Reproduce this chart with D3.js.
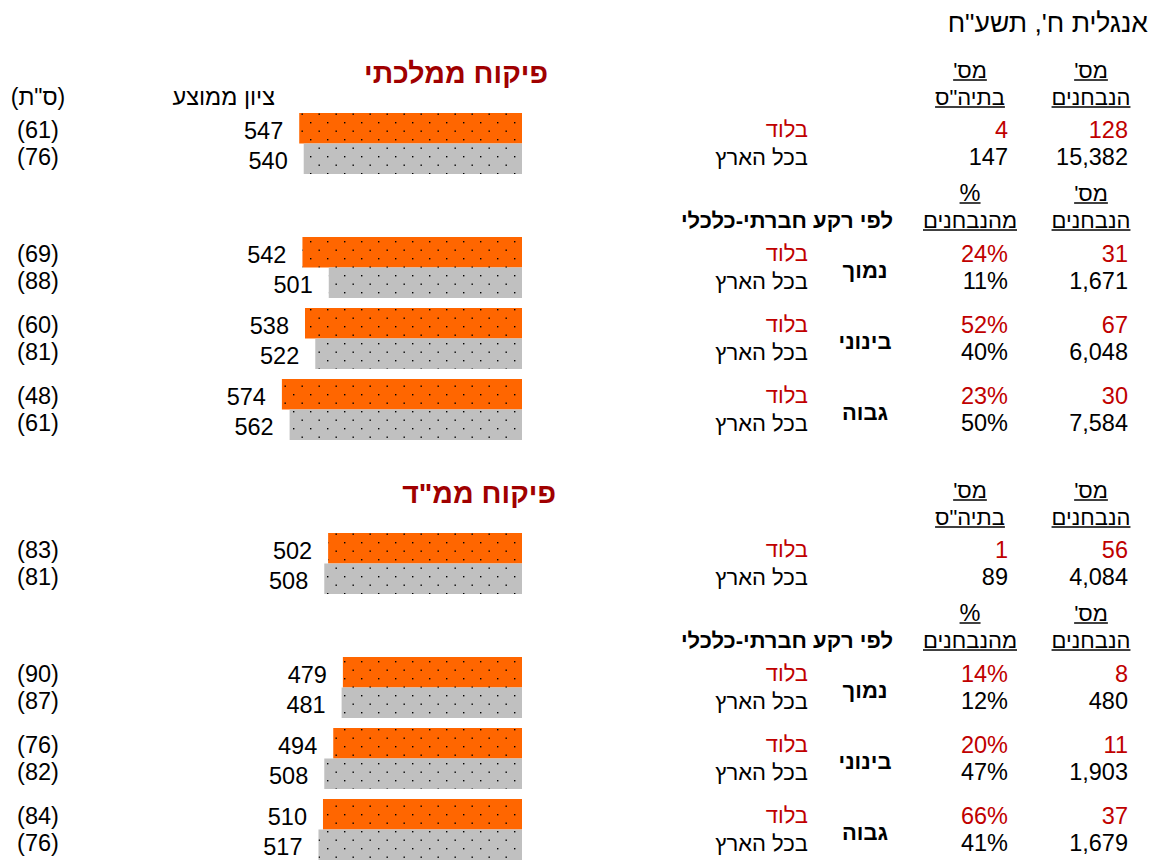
<!DOCTYPE html>
<html>
<head>
<meta charset="utf-8">
<script src="https://cdn.jsdelivr.net/npm/d3@7"></script>
<style>
  body { margin: 0; background: #fff; }
  svg { font-family: "Liberation Sans", Arial, sans-serif; }
</style>
</head>
<body>
<div id="chart"></div>
<script>
var svgWidth = 1158;
var svgHeight = 861;

// data
var pageTitle = "אנגלית ח', תשע\"ח";
var sectionTitles = ["פיקוח ממלכתי", "פיקוח ממ\"ד"];
var groups = ["בלוד", "בכל הארץ"];
var sesLevels = ["נמוך", "בינוני", "גבוה"];

// [section][group]
var overallScores = [[547, 540], [502, 508]];
var overallSD = [[61, 76], [83, 81]];
var overallExaminees = [[128, 15382], [56, 4084]];
var overallSchools = [[4, 147], [1, 89]];

// [section][ses][group]
var sesScores = [
    [[542, 501], [538, 522], [574, 562]],
    [[479, 481], [494, 508], [510, 517]]
];
var sesSD = [
    [[69, 88], [60, 81], [48, 61]],
    [[90, 87], [76, 82], [84, 76]]
];
var sesExaminees = [
    [[31, 1671], [67, 6048], [30, 7584]],
    [[8, 480], [11, 1903], [37, 1679]]
];
var sesPercent = [
    [[24, 11], [52, 40], [23, 50]],
    [[14, 12], [20, 47], [66, 41]]
];

var colors = ["#ff6600", "#c0c0c0"];
var textColors = ["#c00000", "#000000"];
var darkRed = "#a00000";
var fontSize = 22;
var numSize = 23.5;

var svg = d3.select("#chart")
    .append("svg")
    .attr("width", svgWidth)
    .attr("height", svgHeight);

var defs = svg.append("defs");
colors.forEach(function(c, i) {
    var p = defs.append("pattern")
        .attr("id", "dots" + i)
        .attr("patternUnits", "userSpaceOnUse")
        .attr("width", 17)
        .attr("height", 17);
    p.append("rect").attr("width", 17).attr("height", 17).attr("fill", c);
    p.append("rect").attr("x", 4).attr("y", 3).attr("width", 1.4).attr("height", 1.4).attr("fill", "#000");
    p.append("rect").attr("x", 12.5).attr("y", 11.5).attr("width", 1.4).attr("height", 1.4).attr("fill", "#000");
});

var x = d3.scaleLinear()
    .domain([200, 600])
    .range([522, 265.2]);

var fmt = d3.format(",");

// hebrew text, right aligned at x unless anchor given
function heb(g, tx, ty, s, opt) {
    opt = opt || {};
    var t = g.append("text")
        .attr("x", tx)
        .attr("y", ty)
        .attr("direction", "rtl")
        .attr("dominant-baseline", "central")
        .attr("text-anchor", opt.anchor || "start")
        .attr("font-size", opt.size || fontSize)
        .attr("font-weight", opt.bold ? "bold" : "normal")
        .attr("fill", opt.color || "#000")
        .text(s);
    if (opt.underline) {
        var b = t.node().getBBox();
        g.append("line")
            .attr("x1", b.x).attr("x2", b.x + b.width)
            .attr("y1", ty + 10).attr("y2", ty + 10)
            .attr("stroke", "#000")
            .attr("stroke-width", 1.5);
    }
    return t;
}

function num(g, tx, ty, s, color, anchor) {
    return g.append("text")
        .attr("x", tx)
        .attr("y", ty)
        .attr("dominant-baseline", "central")
        .attr("text-anchor", anchor || "end")
        .attr("font-size", numSize)
        .attr("fill", color || "#000")
        .text(s);
}

heb(svg, 1148, 23, pageTitle, { size: 26.5 });

var titleRight = [548, 556];
var colA = 1091, colAright = 1128;
var colB = 970, colBright = 1008;
var groupRight = 808;
var sdCenter = 38;

var inner = d3.scaleBand().domain([0, 1]).range([0, 61]);

function drawPair(g, top, scores, sds, colAvals, colBvals, isPct) {
    groups.forEach(function(gr, i) {
        var by = top + inner(i);
        g.append("rect")
            .attr("x", x(scores[i]))
            .attr("y", by)
            .attr("width", x(200) - x(scores[i]))
            .attr("height", inner.bandwidth())
            .attr("fill", "url(#dots" + i + ")");
        num(g, x(scores[i]) - 16, by + inner.bandwidth() / 2 + 2.5, scores[i]);
        var ty = top + 30.5 + (i === 0 ? -13.75 : 13.75);
        num(g, sdCenter, ty, "(" + sds[i] + ")", "#000", "middle");
        heb(g, groupRight, ty, gr, { color: textColors[i] });
        num(g, colBright, ty, isPct ? colBvals[i] + "%" : fmt(colBvals[i]), textColors[i]);
        num(g, colAright, ty, fmt(colAvals[i]), textColors[i]);
    });
}

sectionTitles.forEach(function(title, s) {
    var g = svg.append("g").attr("transform", "translate(0," + (s * 420) + ")");

    heb(g, titleRight[s], 73, title, { bold: true, size: 28.5, color: darkRed });

    if (s === 0) {
        heb(g, 275, 97, "ציון ממוצע", { size: 23.5 });
        heb(g, sdCenter, 97, "(ס\"ת)", { anchor: "middle", size: 23 });
    }

    heb(g, colA, 70, "מס'", { anchor: "middle", underline: true });
    heb(g, colA, 97, "הנבחנים", { anchor: "middle", underline: true });
    heb(g, colB, 70, "מס'", { anchor: "middle", underline: true });
    heb(g, colB, 97, "בתיה\"ס", { anchor: "middle", underline: true });

    drawPair(g, 113, overallScores[s], overallSD[s], overallExaminees[s], overallSchools[s], false);

    heb(g, colA, 193, "מס'", { anchor: "middle", underline: true });
    heb(g, colA, 220, "הנבחנים", { anchor: "middle", underline: true });
    heb(g, colB, 193, "%", { anchor: "middle", underline: true, size: numSize });
    heb(g, colB, 220, "מהנבחנים", { anchor: "middle", underline: true });
    heb(g, 893, 220, "לפי רקע חברתי-כלכלי", { bold: true });

    var y = d3.scaleBand()
        .domain(sesLevels)
        .range([237, 440])
        .paddingInner(10 / 71);

    sesLevels.forEach(function(lvl, j) {
        drawPair(g, y(lvl), sesScores[s][j], sesSD[s][j], sesExaminees[s][j], sesPercent[s][j], true);
        heb(g, 865, y(lvl) + y.bandwidth() / 2 + 3, lvl, { anchor: "middle", bold: true });
    });
});
</script>
</body>
</html>
